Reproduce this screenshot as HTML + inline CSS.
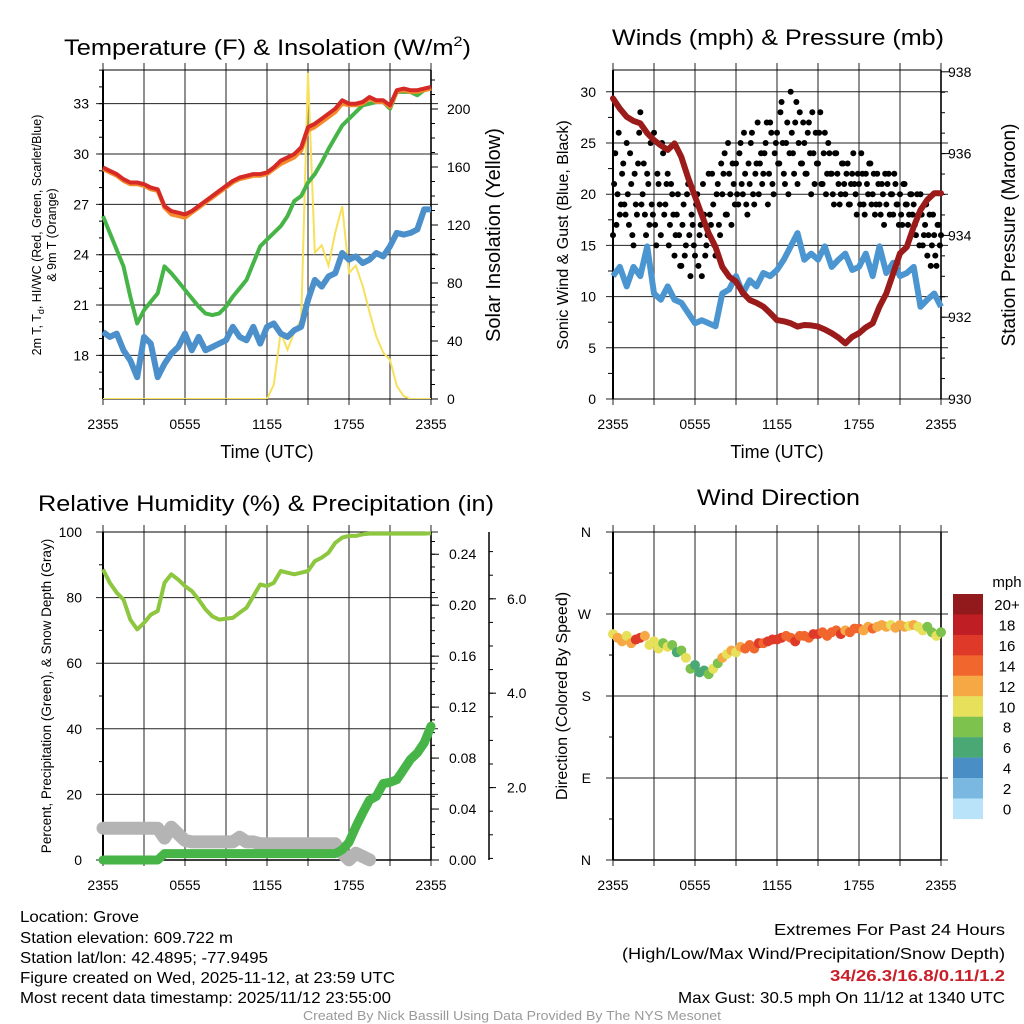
<!DOCTYPE html>
<html><head><meta charset="utf-8"><style>
html,body{margin:0;padding:0;background:#fff;}
svg{display:block;font-family:"Liberation Sans",sans-serif;}
</style></head><body>
<svg id="c" width="1024" height="1024" viewBox="0 0 1024 1024" xmlns="http://www.w3.org/2000/svg">
<g id="g"></g>
</svg>
<script>
// ---- data (half-hour samples, 2355 -> 2355 UTC) ----
const timeLabels = ["2355","0555","1155","1755","2355"];
const tempF = [29.2,29.0,28.8,28.5,28.3,28.3,28.2,28.0,27.9,26.9,26.6,26.5,26.4,26.6,26.9,27.2,27.5,27.8,28.1,28.4,28.6,28.7,28.8,28.8,28.9,29.2,29.6,29.8,30.0,30.4,31.6,31.8,32.1,32.4,32.7,33.2,33.0,33.0,33.1,33.4,33.2,33.2,32.9,33.8,33.9,33.8,33.8,33.9,34.0];
const temp9mF = [29.1,28.9,28.7,28.4,28.2,28.2,28.1,27.9,27.8,26.8,26.4,26.3,26.2,26.5,26.8,27.1,27.4,27.7,28.0,28.3,28.5,28.6,28.7,28.7,28.8,29.1,29.4,29.6,29.8,30.2,31.4,31.6,31.9,32.2,32.5,33.0,32.9,32.9,33.0,33.3,33.1,33.1,32.8,33.7,33.8,33.7,33.7,33.8,33.9];
const dewF = [26.3,25.3,24.3,23.3,21.5,19.9,20.7,21.2,21.7,23.3,22.9,22.4,21.9,21.4,20.9,20.5,20.4,20.5,20.9,21.5,22.0,22.5,23.5,24.5,24.9,25.3,25.7,26.3,27.2,27.5,28.3,28.8,29.5,30.3,31.0,31.7,32.1,32.5,32.9,33.0,33.1,33.1,32.7,33.7,33.7,33.7,33.5,33.8,33.9];
const chillF = [19.4,19.1,19.3,18.3,17.7,16.7,19.1,18.7,16.7,17.5,18.1,18.5,19.3,18.3,19.1,18.3,18.5,18.7,18.9,19.7,19.1,18.9,19.7,18.7,19.7,19.9,19.3,19.1,19.5,19.7,21.3,22.5,22.1,22.7,22.9,24.1,23.7,23.9,23.5,23.7,24.1,23.9,24.5,25.3,25.2,25.3,25.5,26.7,26.7];
const solar = [0,0,0,0,0,0,0,0,0,0,0,0,0,0,0,0,0,0,0,0,0,0,0,0,0,10,46,34,46,55,225,101,106,92,115,133,87,92,78,60,43,32,27,9,2,0,0,0,0];
const windMph = [12.0,12.9,11.0,12.9,12.0,14.9,10.3,9.7,11.0,9.7,9.4,8.4,7.4,7.7,7.4,7.1,10.3,10.7,12.0,10.3,11.6,11.0,12.3,12.0,12.6,13.6,14.9,16.2,13.6,14.2,13.6,14.9,12.9,13.6,14.2,12.6,12.9,14.2,12.0,14.9,12.3,13.3,12.0,12.3,12.9,9.0,9.7,10.3,9.0];
const pressMb = [937.35,937.1,936.9,936.8,936.74,936.5,936.33,936.2,936.09,936.25,935.92,935.4,934.95,934.5,934.05,933.72,933.23,932.99,932.87,932.6,932.42,932.35,932.26,932.1,931.93,931.9,931.85,931.77,931.81,931.8,931.77,931.7,931.61,931.5,931.36,931.52,931.61,931.75,931.85,932.26,932.58,933.07,933.56,933.72,934.21,934.62,934.87,935.03,935.03];
// gusts every 10 min
const gustMph = [16,24,20,18,22,19, 25,17,21,15,19,23, 28,20,18,22,17,19, 26,15,21,16,24,19, 22,17,20,14,18,16, 13,19,15,21,12,17, 14,20,16,12,18,15, 22,17,19,14,21,16, 20,24,18,22,17,21, 23,19,25,20,22,18, 21,26,19,23,20,24, 22,25,19,27,21,24, 26,23,29,22,25,20, 30,24,27,21,28,23, 25,22,27,20,24,26, 23,28,21,26,22,24, 22,19,24,21,20,23, 20,23,19,22,21,18, 21,24,19,22,20,23, 20,18,22,19,21,17, 19,22,20,18,21,19, 20,17,21,19,18,20, 19,16,18,20,15,17, 14,18,15,16,13,17, 16];
// gusts offset by 5 min
const gustMph2 = [21,17,26,19,23,18, 20,24,16,22,18,26, 19,23,16,21,25,18, 17,22,19,25,18,21, 15,21,18,16,20,13, 17,14,20,16,18,15, 19,13,17,21,14,16, 18,22,15,20,17,23, 22,18,25,20,23,19, 20,24,21,26,19,23, 25,20,22,27,23,21, 24,27,22,26,20,25, 23,28,25,21,27,24, 26,22,29,25,23,27, 22,26,24,28,21,23, 26,21,24,20,25,22, 20,24,22,19,23,21, 22,19,21,24,20,22, 19,22,18,21,23,19, 22,19,21,18,20,22, 21,18,20,22,19,17, 18,21,19,17,20,18, 17,20,15,18,16,19, 16,13,18,14,17,15];
const rhPct = [88.6,84.5,81.5,79.4,73.3,70.3,72.3,74.8,75.9,84.5,87.1,85.5,83.5,82,79.4,76.4,74.3,73.3,73.6,73.8,75.4,76.9,80.4,84,83.5,84.5,88.1,87.6,87.1,87.6,88.1,91.1,92.2,93.7,96.7,98.3,98.8,98.8,99.3,99.5,99.5,99.5,99.5,99.5,99.5,99.5,99.5,99.5,99.6];
const precipIn = [0,0,0,0,0,0,0,0,0,0.005,0.005,0.005,0.005,0.005,0.005,0.005,0.005,0.005,0.005,0.005,0.005,0.005,0.005,0.005,0.005,0.005,0.005,0.005,0.005,0.005,0.005,0.005,0.005,0.005,0.005,0.008,0.014,0.026,0.037,0.047,0.05,0.06,0.061,0.063,0.071,0.079,0.084,0.092,0.105];
const snowIn = [1.14,1.14,1.14,1.14,1.14,1.14,1.14,1.14,1.14,0.93,1.16,1.02,0.88,0.85,0.85,0.85,0.85,0.85,0.85,0.85,0.95,0.85,0.85,0.81,0.81,0.81,0.81,0.81,0.81,0.81,0.81,0.81,0.81,0.81,0.81,0.61,0.47,0.61,0.54,0.47];
// direction every 20 min
const dirDeg = [248,244,240,246,238,242,244,246,236,240,232,238,234,236,228,230,222,210,214,206,208,204,210,216,222,226,230,228,234,232,236,232,238,238,240,242,242,244,246,244,240,246,246,244,248,248,250,246,250,252,248,252,250,254,254,252,256,254,256,258,256,258,255,258,256,257,258,256,252,256,250,246,250];
const dirSpd = [11,12,12,10,12,16,17,12,10,11,10,9,11,8,7,9,10,8,7,6,7,8,10,9,12,10,12,11,12,14,15,14,16,15,16,17,17,16,15,14,16,15,14,15,17,16,14,15,14,15,16,13,14,15,14,12,13,14,12,13,12,11,12,13,12,10,12,11,10,8,9,11,8];
const cbarLabels = ["20+","18","16","14","12","10","8","6","4","2","0"];
const cbarColors = ["#921a1c","#bf1e24","#df3a29","#f0662d","#f6a845","#e7e05a","#7cc24c","#4aa874","#4a8ec6","#7ab8e2","#b9e3f8"];

const NS="http://www.w3.org/2000/svg";
const G=document.getElementById('g');
function el(tag,attrs,parent){const e=document.createElementNS(NS,tag);for(const k in attrs)e.setAttribute(k,attrs[k]);(parent||G).appendChild(e);return e;}
function txt(s,x,y,size,anchor,extra){const e=el('text',Object.assign({x:x,y:y,'font-size':size,'text-anchor':anchor||'middle',fill:'#000'},extra||{}));e.textContent=s;return e;}
function pathD(vals,xf,yf,step){return vals.map((v,i)=>(i?'L':'M')+xf(i*step).toFixed(1)+' '+yf(v).toFixed(1)).join(' ');}

function frame(x0,y0,x1,y1,name){
  const g=el('g',{});
  
  
  for(let k=0;k<=8;k++){const x=x0+(x1-x0)*k/8;el('line',{x1:x,y1:y0-7,x2:x,y2:y1+6,stroke:'#555','stroke-width':1.3},g);}
  return g;
}
function hgrid(g,x0,x1,y){el('line',{x1:x0-7,y1:y,x2:x1+7,y2:y,stroke:'#222','stroke-width':1},g);}
function xlabels(x0,x1,y){timeLabels.forEach((s,i)=>{const t=txt(s,x0+(x1-x0)*i/4,y,14);});}

// ================= Panel 1 =================
{
const X0=103,X1=431,Y0=70,Y1=399;
const xT=h=>X0+(X1-X0)*h/24;
const yT=v=>Y1-(v-15.4)*16.78;
const yS=v=>Y1-v*1.45;
const g=frame(X0,Y0,X1,Y1,'temperature-plot-grid');
[18,21,24,27,30,33].forEach(v=>{hgrid(g,X0,X1,yT(v));const t=txt(String(v),X0-14,yT(v)+5,14,'end');});
for(let v=16;v<=35;v++)el('line',{x1:X0-4,y1:yT(v),x2:X0,y2:yT(v),stroke:'#000'},g);
[0,40,80,120,160,200].forEach(v=>{el('line',{x1:X1,y1:yS(v),x2:X1+7,y2:yS(v),stroke:'#000'},g);const t=txt(String(v),447,yS(v)+5,14,'start');});
for(let v=10;v<=220;v+=10)el('line',{x1:X1,y1:yS(v),x2:X1+4,y2:yS(v),stroke:'#000'},g);
el('line',{x1:X0,y1:Y0,x2:X0,y2:Y1,stroke:'#000','stroke-width':2},g);
el('line',{x1:X1,y1:Y0,x2:X1,y2:Y1,stroke:'#000','stroke-width':1.5},g);
el('line',{x1:X0,y1:Y0,x2:X1,y2:Y0,stroke:'#000','stroke-width':1},g);
el('line',{x1:X0,y1:Y1,x2:X1,y2:Y1,stroke:'#000','stroke-width':1},g);
const cp=el('clipPath',{id:'cp1'});el('rect',{x:X0,y:Y0-2,width:X1-X0,height:Y1-Y0+2},cp);
let p;
p=el('path',{d:pathD(solar,xT,yS,0.5),fill:'none',stroke:'#f7e05c','stroke-width':2,'clip-path':'url(#cp1)'});

p=el('path',{d:pathD(chillF,xT,yT,0.5),fill:'none',stroke:'#4b8fcb','stroke-width':6,'stroke-linejoin':'round'});

p=el('path',{d:pathD(dewF,xT,yT,0.5),fill:'none',stroke:'#46b447','stroke-width':4,'stroke-linejoin':'round'});

p=el('path',{d:pathD(temp9mF,xT,yT,0.5),fill:'none',stroke:'#f58a2b','stroke-width':4,'stroke-linejoin':'round'});

p=el('path',{d:pathD(tempF,xT,yT,0.5),fill:'none',stroke:'#d52a26','stroke-width':4,'stroke-linejoin':'round'});

xlabels(X0,X1,429);
let t=txt('Time (UTC)',267,458,18);
t=el('text',{x:64,y:55,'font-size':22,textLength:407,lengthAdjust:'spacingAndGlyphs'});t.innerHTML='Temperature (F) &amp; Insolation (W/m<tspan font-size="14" dy="-9">2</tspan><tspan dy="9">)</tspan>';

t=el('text',{transform:'translate(41,235) rotate(-90)','font-size':12.5,'text-anchor':'middle'});t.innerHTML='2m T, T<tspan font-size="9" dy="3">d</tspan><tspan dy="-3">, HI/WC (Red, Green, Scarlet/Blue)</tspan>';

t=txt('& 9m T (Orange)',0,0,12.5,'middle',{transform:'translate(56,235) rotate(-90)'});
t=txt('Solar Insolation (Yellow)',0,0,20,'middle',{transform:'translate(500,235) rotate(-90)'});
}

// ================= Panel 2 =================
{
const X0=613,X1=941,Y0=70,Y1=399;
const xT=h=>X0+(X1-X0)*h/24;
const yW=v=>Y1-v*10.24;
const yP=v=>Y1-(v-930)*40.9;
const g=frame(X0,Y0,X1,Y1,'winds-plot-grid');
[0,5,10,15,20,25,30].forEach(v=>{hgrid(g,X0,X1,yW(v));const t=txt(String(v),X0-17,yW(v)+5,14,'end');});
for(let v=2.5;v<=32;v+=5)el('line',{x1:X0-5,y1:yW(v),x2:X0,y2:yW(v),stroke:'#000'},g);
[930,932,934,936,938].forEach(v=>{el('line',{x1:X1,y1:yP(v),x2:X1+8,y2:yP(v),stroke:'#000'},g);const t=txt(String(v),948,yP(v)+5,14,'start');});
for(let v=930.5;v<938;v+=0.5)el('line',{x1:X1,y1:yP(v),x2:X1+4,y2:yP(v),stroke:'#000'},g);
el('line',{x1:X0,y1:Y0,x2:X0,y2:Y1,stroke:'#000','stroke-width':2},g);
el('line',{x1:X1,y1:Y0,x2:X1,y2:Y1,stroke:'#000','stroke-width':1.5},g);
el('line',{x1:X0,y1:Y0,x2:X1,y2:Y0,stroke:'#000'},g);
el('line',{x1:X0,y1:Y1,x2:X1,y2:Y1,stroke:'#000'},g);
let p=el('path',{d:pathD(windMph,xT,yW,0.5),fill:'none',stroke:'#4b95d0','stroke-width':6,'stroke-linejoin':'round'});

gustMph.forEach((v,i)=>{const c=el('circle',{cx:xT(i/6),cy:yW(v),r:3,fill:'#000'});

});
gustMph2.forEach((v,i)=>{const c=el('circle',{cx:xT(i/6+1/12),cy:yW(v),r:3,fill:'#000'});

});
p=el('path',{d:pathD(pressMb,xT,yP,0.5),fill:'none',stroke:'#9b1a1a','stroke-width':6,'stroke-linejoin':'round','stroke-linecap':'round'});

xlabels(X0,X1,429);
let t=txt('Time (UTC)',777,458,18);
t=txt('Winds (mph) & Pressure (mb)',612,45,22,'start',{textLength:332,lengthAdjust:'spacingAndGlyphs'});
t=txt('Sonic Wind & Gust (Blue, Black)',0,0,16,'middle',{transform:'translate(568,235) rotate(-90)'});
t=txt('Station Pressure (Maroon)',0,0,19,'middle',{transform:'translate(1015,235) rotate(-90)'});
}

// ================= Panel 3 =================
{
const X0=103,X1=431,Y0=532,Y1=860;
const xT=h=>X0+(X1-X0)*h/24;
const yR=v=>Y1-v*3.28;
const yPr=v=>Y1-v*1274;
const ySn=v=>882-v*47.2;
const g=frame(X0,Y0,X1,Y1,'humidity-plot-grid');
[0,20,40,60,80,100].forEach(v=>{hgrid(g,X0,X1,yR(v));const t=txt(String(v),X0-21,yR(v)+5,14,'end');});
for(let v=10;v<100;v+=20)el('line',{x1:X0-4,y1:yR(v),x2:X0,y2:yR(v),stroke:'#000'},g);
[0,0.04,0.08,0.12,0.16,0.20,0.24].forEach(v=>{el('line',{x1:X1,y1:yPr(v),x2:X1+8,y2:yPr(v),stroke:'#000'},g);const t=txt(v.toFixed(2),449,yPr(v)+5,14,'start');});
for(let v=0.01;v<0.256;v+=0.01)el('line',{x1:X1,y1:yPr(v),x2:X1+4,y2:yPr(v),stroke:'#000'},g);
el('line',{x1:489,y1:Y0,x2:489,y2:Y1,stroke:'#000','stroke-width':1.5},g);
[2,4,6].forEach(v=>{el('line',{x1:489,y1:ySn(v),x2:496,y2:ySn(v),stroke:'#000'},g);const t=txt(v.toFixed(1),507,ySn(v)+5,14,'start');});
for(let v=0.5;v<7.5;v+=0.5)if(ySn(v)<=Y1)el('line',{x1:489,y1:ySn(v),x2:493,y2:ySn(v),stroke:'#000'},g);
el('line',{x1:X0,y1:Y0,x2:X0,y2:Y1,stroke:'#000','stroke-width':2},g);
el('line',{x1:X1,y1:Y0,x2:X1,y2:Y1,stroke:'#000','stroke-width':1.5},g);
el('line',{x1:X0,y1:Y0,x2:X1,y2:Y0,stroke:'#000'},g);
el('line',{x1:X0,y1:Y1,x2:X1,y2:Y1,stroke:'#000','stroke-width':1.5},g);
let p=el('path',{d:pathD(snowIn,xT,ySn,0.5),fill:'none',stroke:'#b4b4b4','stroke-width':13,'stroke-linejoin':'round','stroke-linecap':'round'});

p=el('path',{d:pathD(precipIn,xT,yPr,0.5),fill:'none',stroke:'#46b446','stroke-width':9,'stroke-linejoin':'round','stroke-linecap':'round'});

p=el('path',{d:pathD(rhPct,xT,yR,0.5),fill:'none',stroke:'#8dc63f','stroke-width':4,'stroke-linejoin':'round'});

xlabels(X0,X1,890);
let t=txt('Relative Humidity (%) & Precipitation (in)',38,511,22,'start',{textLength:456,lengthAdjust:'spacingAndGlyphs'});
t=txt('Percent, Precipitation (Green), & Snow Depth (Gray)',0,0,13.5,'middle',{transform:'translate(51,696) rotate(-90)'});
}

// ================= Panel 4 =================
{
const X0=613,X1=941,Y0=532,Y1=860;
const xT=h=>X0+(X1-X0)*h/24;
const yD=v=>Y1-v*0.911;
const g=frame(X0,Y0,X1,Y1,'direction-plot-grid');
const dl=["N","E","S","W","N"];
[0,90,180,270,360].forEach((v,i)=>{hgrid(g,X0,X1,yD(v));const t=txt(dl[i],X0-22,yD(v)+5,14,'end');});
for(let v=45;v<360;v+=90)el('line',{x1:X0-4,y1:yD(v),x2:X0,y2:yD(v),stroke:'#000'},g);
el('line',{x1:X0,y1:Y0,x2:X0,y2:Y1,stroke:'#000','stroke-width':2},g);
el('line',{x1:X1,y1:Y0,x2:X1,y2:Y1,stroke:'#000','stroke-width':1.5},g);
el('line',{x1:X0,y1:Y0,x2:X1,y2:Y0,stroke:'#000'},g);
el('line',{x1:X0,y1:Y1,x2:X1,y2:Y1,stroke:'#000','stroke-width':1.5},g);
const col=s=>cbarColors[10-Math.min(10,Math.floor(s/2))];
dirDeg.forEach((v,i)=>{const c=el('circle',{cx:xT(i/3),cy:yD(v),r:5,fill:col(dirSpd[i])});

});
xlabels(X0,X1,890);
let t=txt('Wind Direction',697,505,22,'start',{textLength:163,lengthAdjust:'spacingAndGlyphs'});
t=txt('Direction (Colored By Speed)',0,0,16,'middle',{transform:'translate(567,696) rotate(-90)'});
const cb=el('g',{});


cbarColors.forEach((c,i)=>{el('rect',{x:953,y:594+i*20.45,width:30,height:20.6,fill:c},cb);const tt=txt(cbarLabels[i],1007,594+i*20.45+16,15,'middle');});
t=txt('mph',1007,587,15,'middle');
}

// ================= Footer text =================
{
const L=[["Location: Grove",922,119],["Station elevation: 609.722 m",943,213],["Station lat/lon: 42.4895; -77.9495",963,248],["Figure created on Wed, 2025-11-12, at 23:59 UTC",983,375],["Most recent data timestamp: 2025/11/12 23:55:00",1003,371]];
L.forEach(a=>{const t=txt(a[0],20,a[1],16,'start',{textLength:a[2],lengthAdjust:'spacingAndGlyphs'});});
const R=[["Extremes For Past 24 Hours",935,231,'#000','normal'],["(High/Low/Max Wind/Precipitation/Snow Depth)",959,383,'#000','normal'],["34/26.3/16.8/0.11/1.2",981,175,'#c8202a','bold'],["Max Gust: 30.5 mph On 11/12 at 1340 UTC",1003,327,'#000','normal']];
R.forEach(a=>{const t=txt(a[0],1005-a[2],a[1],16,'start',{textLength:a[2],lengthAdjust:'spacingAndGlyphs',fill:a[3],'font-weight':a[4]});});
const t=txt('Created By Nick Bassill Using Data Provided By The NYS Mesonet',303,1020,13,'start',{textLength:418,lengthAdjust:'spacingAndGlyphs',fill:'#999'});

}
</script>
</body></html>
